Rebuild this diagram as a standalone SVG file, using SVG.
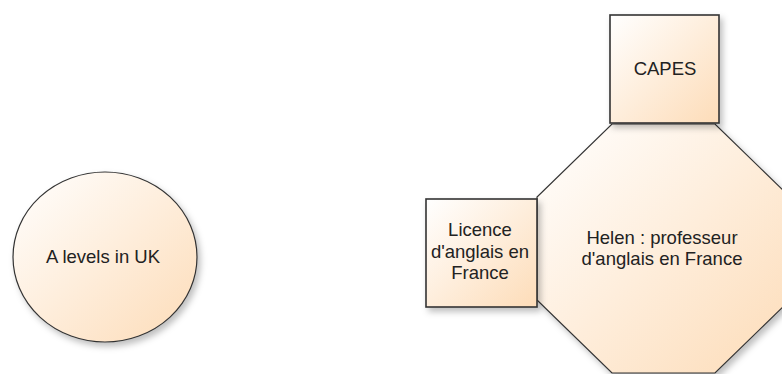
<svg xmlns="http://www.w3.org/2000/svg" width="782" height="374" viewBox="0 0 782 374">
<defs>
<linearGradient id="g" x1="0" y1="0" x2="1" y2="1">
<stop offset="0" stop-color="#ffffff"/>
<stop offset="1" stop-color="#fddcb8"/>
</linearGradient>
<filter id="sh" x="-10%" y="-10%" width="130%" height="130%">
<feDropShadow dx="3" dy="4" stdDeviation="3" flood-color="#000" flood-opacity="0.25"/>
</filter>
</defs>
<style>
.n{fill:url(#g);stroke:#333;filter:url(#sh)}
.b{stroke-width:1.6}
.t{font-family:"Liberation Sans",Arial,sans-serif;font-size:18.5px;fill:#222;text-anchor:middle}
</style>
<rect width="782" height="374" fill="#fff"/>
<g id="connectors"></g>
<g id="alevels">
<ellipse class="n" cx="105" cy="257" rx="92" ry="85" stroke-width="1.2"/>
<text class="t" x="103" y="263">A levels in UK</text>
</g>
<g id="helen">
<polygon class="n" points="612,124 715,124 790,197 790,300 715,373 612,373 537,300 537,197" stroke-width="1.2"/>
<text class="t" x="662" y="244">Helen : professeur</text>
<text class="t" x="662" y="265">d'anglais en France</text>
</g>
<g id="capes">
<rect class="n b" x="610" y="15" width="109" height="108"/>
<text class="t" x="665" y="75">CAPES</text>
</g>
<g id="licence">
<rect class="n b" x="426" y="199" width="111" height="108"/>
<text class="t" x="480" y="236">Licence</text>
<text class="t" x="480" y="258">d'anglais en</text>
<text class="t" x="480" y="279">France</text>
</g>
</svg>
